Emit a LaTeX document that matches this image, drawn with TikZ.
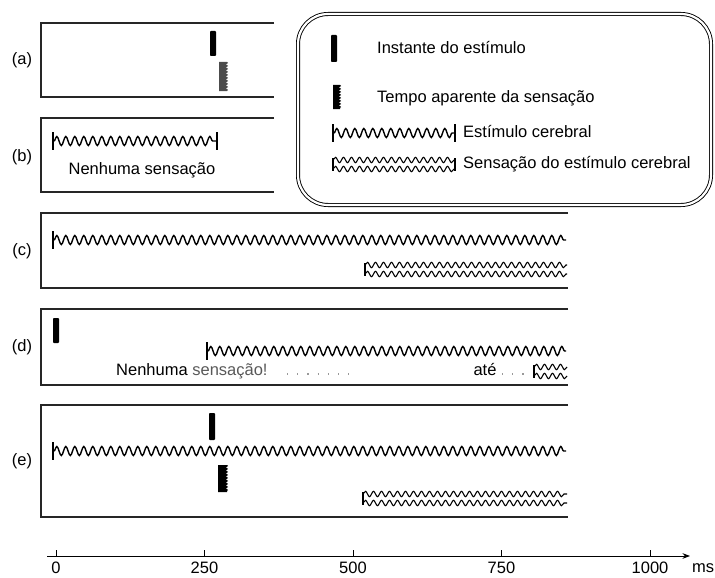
\documentclass[tikz,border=0pt]{standalone}
\usepackage{fontspec}
\setmainfont{Liberation Sans}
\usetikzlibrary{arrows.meta,decorations.pathmorphing}

\begin{document}
\begin{tikzpicture}[x=1pt, y=-1pt, >=Stealth,
    panel/.style={line width=1.4pt, black!85},
    stimbar/.style={fill=black, rounded corners=0.8pt},
    endbar/.style={line width=2.6pt},
    stimwave/.style={line width=1.4pt, decorate,
        decoration={snake, amplitude=4.5pt, segment length=9pt}},
    senswave/.style={line width=1.1pt, decorate,
        decoration={snake, amplitude=2.7pt, segment length=8pt}},
    lbl/.style={font=\fontsize{16.5}{19}\selectfont, inner sep=0pt}]
    \useasboundingbox (0,0) rectangle (715,578);

    % Panel frames (open on the right)
    \draw[panel] (274,23) -- (41,23) -- (41,97) -- (274,97);
    \draw[panel] (274,118) -- (41,118) -- (41,192) -- (274,192);
    \draw[panel] (568,213) -- (41,213) -- (41,288) -- (568,288);
    \draw[panel] (568,309) -- (41,309) -- (41,385) -- (568,385);
    \draw[panel] (568,405) -- (41,405) -- (41,517) -- (568,517);
    \foreach \p/\y in {a/60, b/157, c/251, d/347, e/461}
        \node[lbl] (lab\p) at (22,\y) {(\p)};

    % Legend
    \draw[line width=0.9pt, double, double distance=2.2pt, rounded corners=30pt]
        (298,14) rectangle (711,205);
    \fill[stimbar] (331,35) rectangle (337,62);
    \node[lbl, anchor=west] (keystim) at (377,48) {Instante do estímulo};
    \fill[black] (333,85) -- (340,85)
        decorate[decoration={snake, amplitude=1.2pt, segment length=3pt}] {-- (340,109)}
        -- (333,109) -- cycle;
    \node[lbl, anchor=west] (keysens) at (377,98) {Tempo aparente da sensação};
    \draw[stimwave] (334,133) -- (454,133);
    \draw[endbar] (333,124) -- (333,142);
    \draw[endbar] (455,124) -- (455,142);
    \node[lbl, anchor=west] (keywave) at (463,132) {Estímulo cerebral};
    \draw[senswave] (333,160) -- (454,160);
    \draw[senswave] (333,169) -- (454,169);
    \draw[line width=1.1pt] (333,158) -- (333,171);
    \draw[line width=1.1pt] (455,158) -- (455,171);
    \node[lbl, anchor=west] (keyfeel) at (463,164) {Sensação do estímulo cerebral};

    % (a) stimulus and apparent sensation
    \fill[stimbar] (210,31) rectangle (216,56);
    \fill[black!70] (219,62) -- (227,62)
        decorate[decoration={snake, amplitude=1.2pt, segment length=3pt}] {-- (227,91)}
        -- (219,91) -- cycle;

    % (b) short cerebral stimulus
    \draw[stimwave] (54,141) -- (216,141);
    \draw[endbar] (53,132) -- (53,150);
    \draw[endbar] (217,132) -- (217,150);
    \node[lbl] (nob) at (142,170) {Nenhuma sensação};

    % (c) long cerebral stimulus
    \draw[stimwave] (54,240) -- (566,240);
    \draw[endbar] (53,231) -- (53,249);
    \draw[senswave] (365,265) -- (567,265);
    \draw[senswave] (365,274) -- (567,274);
    \draw[line width=1.1pt] (365,263) -- (365,276);

    % (d) skin stimulus then cerebral stimulus
    \fill[stimbar] (53,318) rectangle (59,343);
    \draw[stimwave] (208,351) -- (566,351);
    \draw[endbar] (207,342) -- (207,360);
    \node[lbl, anchor=west] (nod) at (116,371) {Nenhuma {\color{black!65}sensação!}};
    \draw[black!40, line width=1.2pt, dash pattern=on 1.2pt off 9pt] (287,374) -- (358,374);
    \node[lbl] (ate) at (485,370) {até};
    \draw[black!40, line width=1.2pt, dash pattern=on 1.2pt off 9pt] (502,374) -- (528,374);
    \draw[senswave] (534,367) -- (567,367);
    \draw[senswave] (534,376) -- (567,376);
    \draw[line width=1.1pt] (534,365) -- (534,378);

    % (e) stimulus, cerebral stimulus and sensation
    \fill[stimbar] (209,413) rectangle (215,440);
    \draw[stimwave] (54,451) -- (566,451);
    \draw[endbar] (53,442) -- (53,460);
    \fill[black] (218,465) -- (227,465)
        decorate[decoration={snake, amplitude=1.2pt, segment length=3pt}] {-- (227,492)}
        -- (218,492) -- cycle;
    \draw[senswave] (363,494) -- (567,494);
    \draw[senswave] (363,503) -- (567,503);
    \draw[line width=1.1pt] (363,492) -- (363,505);

    % Time axis
    \draw[line width=1pt, ->] (47,556) -- (690,556);
    \foreach \t/\x in {0/56, 250/204.5, 500/353, 750/501.5, 1000/650} {
        \draw[line width=0.8pt] (\x,550) -- (\x,556);
        \node[lbl] (tick\t) at (\x,568) {\t};
    }
    \node[lbl] (unit) at (703,568) {ms};
\end{tikzpicture}
\end{document}
